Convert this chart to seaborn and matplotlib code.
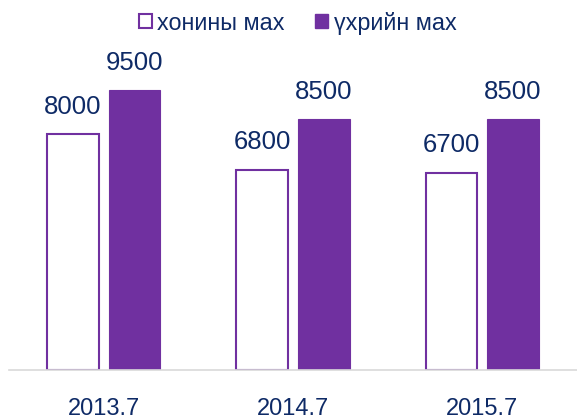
import matplotlib
matplotlib.use("Agg")
import matplotlib.pyplot as plt
import seaborn as sns
import pandas as pd
from matplotlib.patches import Patch

categories = ["2013.7", "2014.7", "2015.7"]
series_names = ["хонины мах", "үхрийн мах"]
mutton = [8000, 6800, 6700]
beef = [9500, 8500, 8500]

df = pd.DataFrame({
    "period": categories * 2,
    "series": [series_names[0]] * 3 + [series_names[1]] * 3,
    "value": mutton + beef,
})

sns.set_theme(style="white")
plt.rcParams["font.family"] = ["Liberation Sans", "DejaVu Sans"]

purple = "#7030A0"
navy = "#0E2A66"

fig = plt.figure(figsize=(5.77, 4.20), dpi=100)
ax = fig.add_axes([9 / 577, 50 / 420, 568 / 577, 330 / 420])

sns.barplot(data=df, x="period", y="value", hue="series", order=categories,
            hue_order=series_names, palette=["white", purple], width=0.65,
            gap=0.16, ax=ax, legend=False, saturation=1)

for i, cont in enumerate(ax.containers):
    for p in cont:
        if i == 0:
            p.set_facecolor("white")
            p.set_edgecolor(purple)
            p.set_linewidth(1.5)
        else:
            p.set_facecolor(purple)
            p.set_edgecolor(purple)
            p.set_linewidth(0.8)
    ax.bar_label(cont, labels=[f"{int(v)}" for v in cont.datavalues],
                 padding=11, fontsize=18.5, color=navy)

ax.set_xlim(-0.5, 2.5)
ax.set_ylim(0, 11196)
ax.set_xlabel("")
ax.set_ylabel("")
ax.set_yticks([])
for s in ["top", "right", "left"]:
    ax.spines[s].set_visible(False)
ax.spines["bottom"].set_color("#D9D9D9")
ax.spines["bottom"].set_linewidth(1.2)
ax.tick_params(axis="x", length=0, pad=20, labelsize=17, labelcolor=navy)

handles = [Patch(facecolor="white", edgecolor=purple, linewidth=1.5),
           Patch(facecolor=purple, edgecolor=purple)]
fig.legend(handles, series_names, loc="center", bbox_to_anchor=(0.516, 0.945),
           ncol=2, frameon=False, fontsize=16.8, labelcolor=navy,
           handlelength=0.55, handleheight=0.55, handletextpad=0.25,
           columnspacing=1.3, borderpad=0.2)

fig.savefig("out.png", dpi=100)
